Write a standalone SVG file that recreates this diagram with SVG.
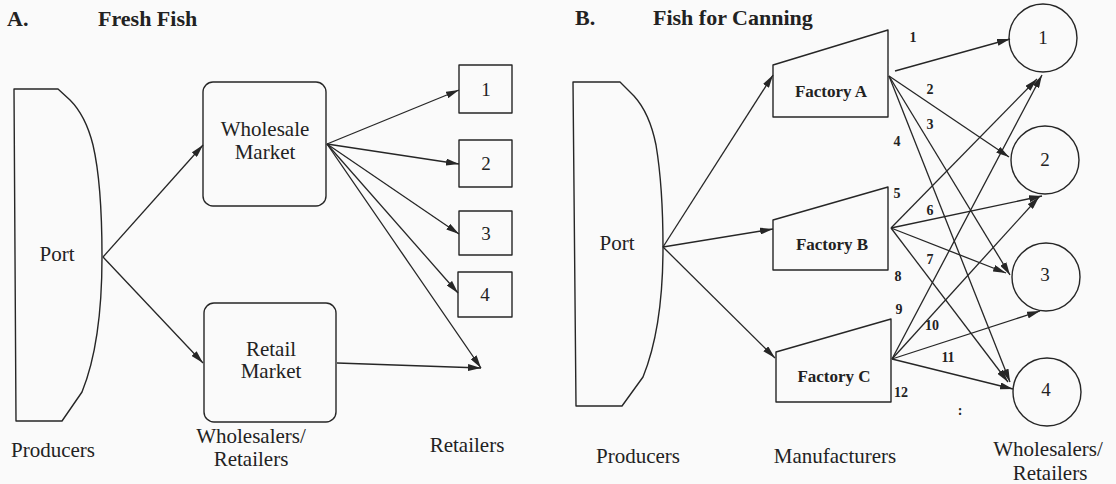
<svg xmlns="http://www.w3.org/2000/svg" width="1116" height="484" viewBox="0 0 1116 484">
  <style>
    .shape { fill: none; stroke: #262626; stroke-width: 1.4; stroke-linejoin: round; }
    .edge { fill: none; stroke: #262626; stroke-width: 1.3; marker-end: url(#head); }
    .title { font-family: "Liberation Serif", "Times New Roman", serif; font-weight: bold; font-size: 22px; fill: #222; }
    .lbl { font-family: "Liberation Serif", "Times New Roman", serif; font-size: 21px; fill: #222; text-anchor: middle; }
    .num { font-family: "Liberation Serif", "Times New Roman", serif; font-size: 19px; fill: #222; text-anchor: middle; }
    .fac { font-family: "Liberation Serif", "Times New Roman", serif; font-weight: bold; font-size: 17px; fill: #222; text-anchor: middle; }
    .elbl { font-family: "Liberation Serif", "Times New Roman", serif; font-weight: bold; font-size: 14px; fill: #222; text-anchor: middle; }
  </style>
  <defs>
    <marker id="head" markerUnits="userSpaceOnUse" markerWidth="13" markerHeight="7" refX="13" refY="3.5" orient="auto">
      <path d="M0,0 L13,3.5 L0,7 Z" fill="#262626"/>
    </marker>
  </defs>

  <rect x="0" y="0" width="1116" height="484" fill="#fafafa"/>

  <!-- Panel A: fresh fish -->
  <g id="titleA">
    <text class="title" x="7" y="26">A.</text>
    <text class="title" x="98" y="26">Fresh Fish</text>
  </g>

  <g id="portA">
    <path class="shape" d="M14,89 H58 L70,100 C80,110 88,125 93,145 C100,175 102,215 102,257 C102,315 95,360 82,392 L62,421 H16 Z"/>
    <text class="lbl" x="57" y="261">Port</text>
  </g>

  <g id="wholesaleMarket">
    <rect class="shape" x="203" y="82" width="123" height="124" rx="10"/>
    <text class="lbl" x="265" y="136">Wholesale</text>
    <text class="lbl" x="265" y="159">Market</text>
  </g>

  <g id="retailMarket">
    <rect class="shape" x="204" y="303" width="132" height="119" rx="10"/>
    <text class="lbl" x="271" y="356">Retail</text>
    <text class="lbl" x="271" y="378">Market</text>
  </g>

  <g id="retailer1">
    <rect class="shape" x="459" y="65" width="53" height="48"/>
    <text class="num" x="486" y="96">1</text>
  </g>
  <g id="retailer2">
    <rect class="shape" x="459" y="140" width="53" height="47"/>
    <text class="num" x="486" y="170">2</text>
  </g>
  <g id="retailer3">
    <rect class="shape" x="459" y="211" width="53" height="44"/>
    <text class="num" x="486" y="240">3</text>
  </g>
  <g id="retailer4">
    <rect class="shape" x="458" y="272" width="54" height="45"/>
    <text class="num" x="485" y="301">4</text>
  </g>

  <g id="captionsA">
    <text class="lbl" x="53" y="457">Producers</text>
    <text class="lbl" x="251" y="443">Wholesalers/</text>
    <text class="lbl" x="251" y="466">Retailers</text>
    <text class="lbl" x="467" y="452">Retailers</text>
  </g>

  <!-- Panel B: fish for canning -->
  <g id="titleB">
    <text class="title" x="575" y="25">B.</text>
    <text class="title" x="653" y="25">Fish for Canning</text>
  </g>

  <g id="portB">
    <path class="shape" d="M573,82 H620 L634,96 C644,107 652,125 656,145 C661,175 663,210 663,247 C663,305 656,345 643,377 L622,406 H576 Z"/>
    <text class="lbl" x="617" y="250">Port</text>
  </g>

  <g id="factoryA">
    <polygon class="shape" points="773,65 888,30 888,117 773,117"/>
    <text class="fac" x="831" y="97">Factory A</text>
  </g>
  <g id="factoryB">
    <polygon class="shape" points="773,220 888,187 888,270 773,270"/>
    <text class="fac" x="832" y="250">Factory B</text>
  </g>
  <g id="factoryC">
    <polygon class="shape" points="776,352 891,319 891,402 776,402"/>
    <text class="fac" x="834" y="382">Factory C</text>
  </g>

  <g id="outlet1">
    <circle class="shape" cx="1043" cy="38" r="34"/>
    <text class="num" x="1043" y="44">1</text>
  </g>
  <g id="outlet2">
    <circle class="shape" cx="1045" cy="160" r="34"/>
    <text class="num" x="1045" y="166">2</text>
  </g>
  <g id="outlet3">
    <circle class="shape" cx="1046" cy="277" r="34"/>
    <text class="num" x="1045" y="281">3</text>
  </g>
  <g id="outlet4">
    <circle class="shape" cx="1047" cy="392" r="34"/>
    <text class="num" x="1046" y="396">4</text>
  </g>

  <g id="captionsB">
    <text class="lbl" x="638" y="463">Producers</text>
    <text class="lbl" x="835" y="463">Manufacturers</text>
    <text class="lbl" x="1048" y="456">Wholesalers/</text>
    <text class="lbl" x="1050" y="480">Retailers</text>
  </g>

  <!-- Connectors -->
  <g id="connectors">
    <!-- panel A -->
    <line class="edge" x1="103" y1="257" x2="203" y2="145"/>
    <line class="edge" x1="103" y1="257" x2="203" y2="363"/>
    <line class="edge" x1="327" y1="144" x2="459" y2="90"/>
    <line class="edge" x1="327" y1="144" x2="459" y2="164"/>
    <line class="edge" x1="327" y1="144" x2="459" y2="234"/>
    <line class="edge" x1="327" y1="144" x2="458" y2="293"/>
    <line class="edge" x1="327" y1="144" x2="481" y2="368"/>
    <line class="edge" x1="337" y1="363" x2="481" y2="368"/>

    <!-- panel B: port to factories -->
    <line class="edge" x1="663" y1="247" x2="773" y2="75"/>
    <line class="edge" x1="663" y1="247" x2="773" y2="229"/>
    <line class="edge" x1="663" y1="247" x2="775" y2="358"/>

    <!-- factory A -->
    <line class="edge" x1="895" y1="71" x2="1010" y2="39"/>
    <line class="edge" x1="889" y1="76" x2="1009" y2="157"/>
    <line class="edge" x1="889" y1="76" x2="1010" y2="275"/>
    <line class="edge" x1="889" y1="76" x2="1010" y2="382"/>

    <!-- factory B -->
    <line class="edge" x1="891" y1="228" x2="1037" y2="79"/>
    <line class="edge" x1="891" y1="228" x2="1042" y2="196"/>
    <line class="edge" x1="891" y1="228" x2="1006" y2="273"/>
    <line class="edge" x1="891" y1="228" x2="1008" y2="382"/>

    <!-- factory C -->
    <line class="edge" x1="892" y1="359" x2="1042" y2="75"/>
    <line class="edge" x1="892" y1="359" x2="1039" y2="197"/>
    <line class="edge" x1="892" y1="359" x2="1040" y2="311"/>
    <line class="edge" x1="892" y1="359" x2="1013" y2="389"/>

    <!-- route numbers -->
    <text class="elbl" x="913" y="42">1</text>
    <text class="elbl" x="930" y="94">2</text>
    <text class="elbl" x="930" y="129">3</text>
    <text class="elbl" x="897" y="146">4</text>
    <text class="elbl" x="897" y="198">5</text>
    <text class="elbl" x="930" y="215">6</text>
    <text class="elbl" x="930" y="264">7</text>
    <text class="elbl" x="898" y="281">8</text>
    <text class="elbl" x="899" y="314">9</text>
    <text class="elbl" x="932" y="330">10</text>
    <text class="elbl" x="948" y="362">11</text>
    <text class="elbl" x="901" y="397">12</text>
    <text class="elbl" x="960" y="415">:</text>
  </g>
</svg>
